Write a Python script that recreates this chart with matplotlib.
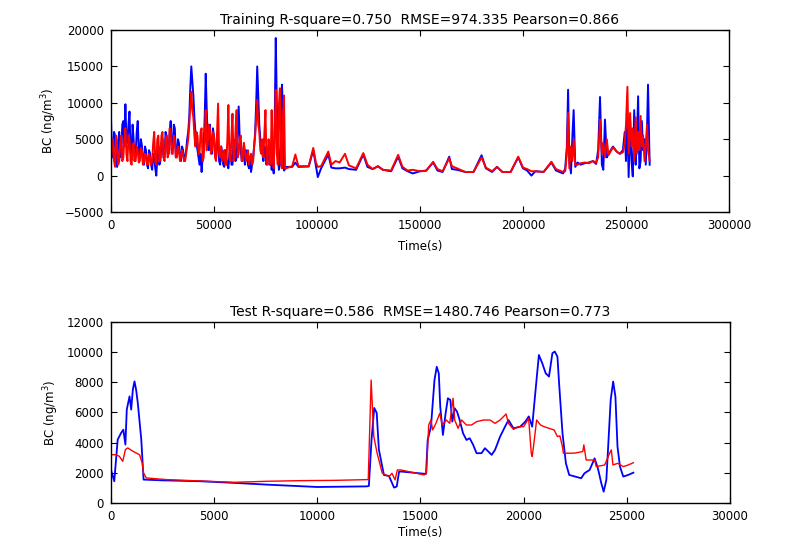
import numpy as np
import matplotlib
matplotlib.use("Agg")
import matplotlib.pyplot as plt

# ---- training data (time in s, BC in ng/m3) ----
# dense part, sampled every 500 s
train_t_dense = np.arange(0, 85000, 500)
train_obs_dense = [
    8000, 3000, 2500, 6000, 5500, 2000, 1200, 4500, 6000, 2500,
    3000, 7000, 7500, 4000, 9800, 5000, 4500, 7000, 8800, 3500,
    2200, 7000, 5000, 2000, 3000, 6000, 7500, 3500, 2500, 5000,
    4200, 2000, 1500, 4000, 3500, 1500, 1000, 3500, 3000, 1500,
    800, 3000, 2500, 1000, 0, 2500, 4000, 1500, 2000, 4500,
    5000, 2500, 2500, 6000, 5500, 3000, 3000, 6000, 7500, 3500,
    4000, 7000, 6500, 2500, 3000, 5000, 4500, 2500, 2000, 4000,
    3500, 2000, 2500, 3500, 5000, 6000, 8000, 12000, 15000, 13000,
    11000, 8000, 6000, 4500, 3500, 2500, 1500, 3000, 500, 2500,
    4000, 8000, 14000, 9000, 5000, 3500, 7000, 4000, 3000, 6500,
    5500, 3000, 2500, 5000, 4500, 2000, 1500, 4000, 3000, 1500,
    1200, 3500, 2500, 1500, 1000, 3000, 3500, 1500, 1500, 5000,
    4000, 2000, 2500, 6000, 9500, 5000, 3500, 2000, 2500, 4000,
    1500, 3500, 3000, 1500, 1000, 2500, 500, 1500, 2500, 4000,
    6000, 10000, 15000, 11000, 7000, 5000, 4500, 3000, 2000, 4000,
    3000, 1500, 2500, 4000, 1500, 2500, 800, 2000, 300, 8000,
    18900, 10000, 5000, 800, 1500, 6000, 12500, 9000, 700, 900,
]
train_pred_dense = [
    1500, 4500, 5000, 2000, 1200, 5500, 4000, 1500, 2000, 4500,
    5500, 2000, 2500, 5000, 6500, 3000, 2000, 5500, 5000, 2000,
    1500, 4000, 4500, 2000, 2000, 4000, 3500, 1800, 2000, 3800,
    3500, 1500, 1800, 3000, 2800, 1500, 1500, 3000, 2500, 1500,
    2000, 4500, 6000, 2000, 1500, 5000, 5500, 2000, 2500, 5500,
    6000, 2500, 2000, 5000, 5500, 2500, 3000, 6500, 6000, 3000,
    3000, 5500, 5000, 2500, 2500, 4000, 3500, 2000, 2500, 3500,
    3000, 2000, 2000, 3000, 4000, 5000, 7000, 9500, 11500, 9000,
    8000, 5500, 4000, 6000, 5500, 3000, 3000, 6000, 6500, 2000,
    2500, 5000, 9000, 3500, 4500, 7000, 6500, 3000, 3500, 6000,
    5500, 2500, 2000, 6000, 9900, 3000, 2500, 4000, 2000, 3000,
    3500, 1500, 1500, 5000, 9700, 2500, 2000, 5500, 8500, 2000,
    2500, 6500, 9000, 2500, 3000, 5000, 5500, 2000, 2000, 4500,
    3500, 2000, 2500, 3500, 1500, 2500, 3000, 1500, 2000, 4000,
    5500, 8000, 10400, 7000, 6000, 3500, 3000, 5000, 2500, 6000,
    9000, 2000, 1500, 5000, 3500, 1500, 9000, 2500, 1000, 6000,
    11800, 3000, 1500, 9500, 12000, 2000, 1000, 8000, 11000, 1000,
]

# quiet middle part
train_t_mid = [
    85000, 88000, 89500, 91000, 96000, 98200, 99500, 100400, 102000, 105500,
    107000, 109000, 111000, 113600, 115500, 119000, 122500, 124500, 127000, 129600,
    132000, 136000, 139400, 141500, 144000, 146500, 150000, 153000, 156400, 158500,
    161000, 164200, 165500, 168000, 172000, 176000, 179900, 182000, 185000, 187400,
    190000, 194000, 197700, 200000, 202000, 204100, 206000, 210000, 213800, 216000,
    219500,
]
train_obs_mid = [
    1200, 1200, 1800, 1200, 1250, 3500, 1300, -200, 1000, 2900,
    1100, 1000, 1000, 1100, 900, 800, 2900, 1200, 900, 1300,
    800, 600, 2600, 1000, 600, 300, 600, 700, 1800, 700,
    500, 2600, 900, 800, 500, 500, 2800, 1000, 500, 1200,
    500, 500, 2500, 1000, 700, 0, 600, 500, 1800, 700,
    300,
]
train_pred_mid = [
    1000, 1300, 2900, 1300, 1300, 3800, 1800, 1200, 1300, 3300,
    1500, 2000, 1800, 3000, 1400, 1000, 3100, 1500, 900, 1250,
    800, 700, 2850, 1200, 700, 800, 600, 650, 1900, 900,
    600, 2400, 1300, 1000, 500, 500, 2500, 1100, 600, 1200,
    500, 500, 2600, 1100, 900, 600, 600, 500, 1900, 900,
    500,
]

# noisy end part
train_t_end = [
    220500, 221300, 221900, 222500, 223300, 224000, 224600, 225400, 226500, 228000,
    230000, 232000, 234000, 235500, 236500, 237400, 238300, 239000, 239800, 240700,
    241500, 243700, 245500, 247000, 248500, 249400, 250000, 250700, 251300, 252000,
    252700, 253300, 254000, 254700, 255300, 255900, 256500, 257100, 257700, 258300,
    259000, 259600, 260200, 260700, 261500,
]
train_obs_end = [
    1000, 4000, 11800, 2000, 300, 5500, 9000, 1200, 1800, 1500,
    1700, 1800, 2000, 1600, 3500, 10800, 1500, 800, 7700, 2500,
    3000, 4000, 3300, 3000, 3500, 6000, 2000, 8000, -200, 7500,
    2000, -100, 9000, 1500, 5000, 10900, 1000, 2000, 7500, 3500,
    5000, 1500, 6000, 12500, 1500,
]
train_pred_end = [
    600, 3000, 8600, 1000, 4000, 2000, 5000, 1500, 1500, 1700,
    1800, 1700, 2000, 1800, 2500, 7700, 3000, 4500, 2500, 5000,
    2800, 3900, 3300, 3000, 3200, 4500, 7000, 12200, 3000, 8600,
    4000, 6500, 2000, 8000, 3000, 6000, 3500, 8200, 4000, 5500,
    2000, 4000, 7000, 3500, 2000,
]

# ---- test data ----
test_t_obs = [
    0, 160, 326, 490, 600, 700, 766, 900, 980, 1060,
    1140, 1220, 1300, 1470, 1580, 2500, 4320, 6000, 7580, 10000,
    12390, 12500, 12630, 12760, 12880, 12985, 13230, 13475, 13720, 13850,
    13965, 14100, 15270, 15350, 15510, 15680, 15790, 15890, 15960, 16090,
    16220, 16330, 16450, 16545, 16660, 16775, 16900, 17065, 17230, 17390,
    17555, 17720, 17960, 18125, 18290, 18450, 18615, 18860, 19100, 19265,
    19510, 19835, 20080, 20250, 20415, 20580, 20740, 20905, 21070, 21230,
    21395, 21510, 21640, 21720, 21885, 22050, 22210, 22790, 22950, 23200,
    23440, 23600, 23765, 23880, 24010, 24090, 24220, 24340, 24450, 24550,
    24670, 24830, 25070, 25320,
]
test_obs = [
    2200, 1440, 4200, 4640, 4860, 3870, 6190, 7070, 6190, 7510,
    8060, 7500, 6630, 4200, 1550, 1500, 1440, 1330, 1215, 1060,
    1100, 1130, 4200, 6300, 5970, 3540, 1856, 1790, 1020, 1090,
    2080, 2080, 1925, 4180, 5060, 8150, 9030, 8590, 6380, 4510,
    5940, 6940, 6830, 5390, 6280, 6050, 5500, 4620, 4180, 4290,
    3850, 3300, 3300, 3630, 3410, 3190, 3520, 4400, 5060, 5500,
    4950, 5060, 5390, 5740, 5060, 7490, 9810, 9260, 8600, 8380,
    9930, 10040, 9700, 7930, 4620, 2630, 1860, 1640, 1970, 2190,
    2960, 2300, 1310, 750, 1530, 3520, 6830, 8050, 7050, 3740,
    2410, 1750, 1860, 2010,
]
test_t_pred = [
    0, 250, 410, 570, 700, 815, 1060, 1385, 1515, 1580,
    1710, 2690, 5950, 7580, 9200, 10840, 12470, 12610, 12740, 12900,
    13150, 13475, 13620, 13770, 13880, 14050, 15180, 15290, 15400, 15510,
    15590, 15750, 15935, 16060, 16250, 16420, 16580, 16660, 16825, 16990,
    17230, 17475, 17720, 18050, 18370, 18615, 18860, 19150, 19265, 19510,
    19750, 20000, 20245, 20370, 20415, 20500, 20630, 20820, 20990, 21230,
    21480, 21640, 21760, 21880, 21930, 22450, 22870, 22920, 23030, 23440,
    23520, 23930, 24170, 24250, 24330, 24560, 24830, 25070, 25320,
]
test_pred = [
    3200, 3200, 3090, 2760, 3540, 3650, 3430, 3200, 2650, 1990,
    1660, 1550, 1370, 1440, 1480, 1500, 1550, 8150, 4400, 3300,
    1970, 1750, 1970, 1530, 2190, 2190, 1860, 1970, 5170, 5500,
    4840, 5280, 5940, 5170, 5500, 5280, 6940, 5500, 4950, 5500,
    5170, 5170, 5390, 5500, 5500, 5280, 5500, 5900, 5280, 4880,
    5060, 5060, 5600, 3300, 3080, 3960, 5500, 5170, 5060, 4950,
    4840, 4400, 4450, 3740, 3300, 3300, 3410, 3850, 2850, 2850,
    2410, 2520, 3300, 3520, 2520, 2630, 2410, 2520, 2670,
]

train_title = "Training R-square=0.750  RMSE=974.335 Pearson=0.866"
test_title = "Test R-square=0.586  RMSE=1480.746 Pearson=0.773"
ylab = "BC (ng/m$^3$)"

plt.rcParams["font.family"] = ["DejaVu Sans"]
plt.rcParams["mathtext.default"] = "regular"

fig = plt.figure(figsize=(7.96, 5.46), dpi=100)
ax1 = fig.add_axes([0.1394, 0.6117, 0.7764, 0.3333])
ax2 = fig.add_axes([0.1394, 0.0788, 0.7776, 0.3315])

t_train = np.concatenate([train_t_dense, train_t_mid, train_t_end])
obs_train = np.concatenate([train_obs_dense, train_obs_mid, train_obs_end])
pred_train = np.concatenate([train_pred_dense, train_pred_mid, train_pred_end])

ax1.plot(t_train, obs_train, color="#0000ff", lw=1.4)
ax1.plot(t_train, pred_train, color="#ff0000", lw=1.4)
ax1.set_xlim(0, 300000)
ax1.set_ylim(-5000, 20000)
ax1.set_xticks(np.arange(0, 300001, 50000))
ax1.set_yticks(np.arange(-5000, 20001, 5000))
ax1.set_title(train_title, fontsize=10, pad=4)
ax1.set_xlabel("Time(s)", fontsize=8.5, labelpad=6)
ax1.set_ylabel(ylab, fontsize=8.5)

ax2.plot(test_t_obs, test_obs, color="#0000ff", lw=1.3)
ax2.plot(test_t_pred, test_pred, color="#ff0000", lw=1.0)
ax2.set_xlim(0, 30000)
ax2.set_ylim(0, 12000)
ax2.set_xticks(np.arange(0, 30001, 5000))
ax2.set_yticks(np.arange(0, 12001, 2000))
ax2.set_title(test_title, fontsize=10, pad=4)
ax2.set_xlabel("Time(s)", fontsize=8.5, labelpad=2)
ax2.set_ylabel(ylab, fontsize=8.5)

for ax in (ax1, ax2):
    ax.tick_params(direction="in", top=True, right=True, labelsize=8.5, length=4, pad=5)
    for s in ax.spines.values():
        s.set_linewidth(1.0)

fig.savefig("out.png", dpi=100, facecolor="white")
